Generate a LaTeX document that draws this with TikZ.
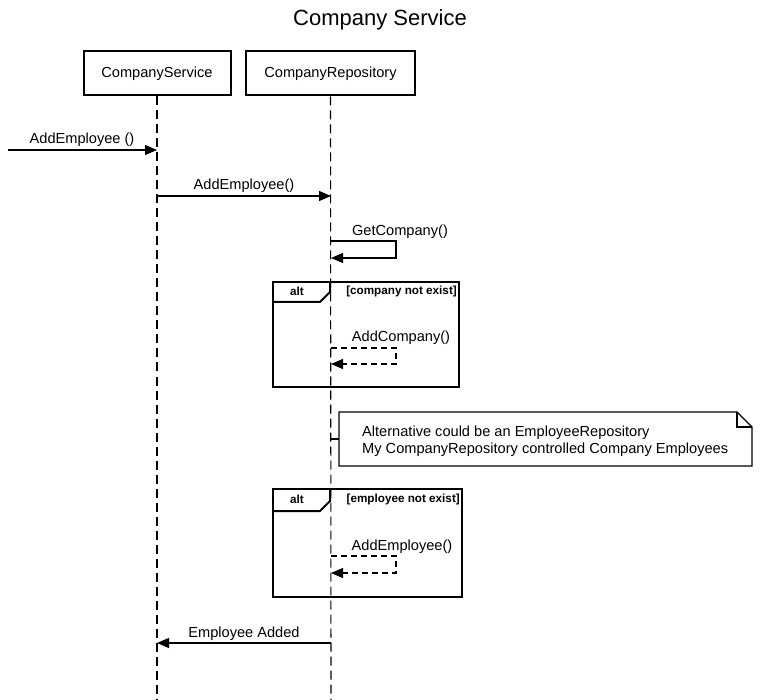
\documentclass[tikz,border=0pt]{standalone}
\usepackage{fontspec}
\setmainfont{Liberation Sans}
\usetikzlibrary{arrows.meta,shapes.misc}
\begin{document}
\begin{tikzpicture}[x=1pt,y=-1pt,
  actor/.style={draw,line width=2pt,minimum width=148pt,minimum height=44pt,inner sep=0pt,font=\fontsize{14.6}{17}\selectfont},
  lifeline/.style={line width=1.1pt,dash pattern=on 9pt off 5pt},
  msg/.style={line width=1.1pt,-{Triangle[length=12pt,width=10pt]}},
  ret/.style={line width=1.1pt,dash pattern=on 6pt off 4pt,-{Triangle[length=12pt,width=10pt]}},
  lbl/.style={font=\fontsize{14.6}{17}\selectfont,inner sep=0pt,yshift=-1.5pt},
  frm/.style={line width=2pt},
  frmtxt/.style={font=\bfseries\fontsize{11.7}{13}\selectfont,inner sep=0pt},
  note/.style={line width=1.1pt}]
\useasboundingbox (0,0) rectangle (760,700);
\node[font=\fontsize{22}{26}\selectfont] (title) at (380,19.5) {Company Service};
\node[actor,minimum width=147pt] (cs) at (157,73.5) {CompanyService};
\node[actor,minimum width=169pt] (cr) at (330.5,73.5) {CompanyRepository};
\coordinate (csend) at (157,700);
\coordinate (crend) at (331,700);
\draw[lifeline] (cs.south) -- (csend);
\draw[lifeline] (cr.south) -- (crend);
% incoming
\coordinate (in) at (8,150);
\coordinate (cs1) at (157,150);
\draw[msg] (in) -- (cs1);
\node[lbl] (l1) at (82,138) {AddEmployee ()};
% call
\coordinate (cs2) at (157,196);
\coordinate (cr2) at (331,196);
\draw[msg] (cs2) -- (cr2);
\node[lbl] (l2) at (244,184) {AddEmployee()};
% self GetCompany
\coordinate (g1) at (331,241);
\coordinate (g2) at (331,258);
\draw[msg] (g1) -- (396,241) -- (396,258) -- (g2);
\node[lbl] (l3) at (400,230) {GetCompany()};
% alt 1
\draw[frm] (273,282) rectangle (459,387);
\draw[frm] (273,302) -- (320,302) -- (330,292) -- (330,282);
\node[frmtxt] (a1) at (297,291.5) {alt};
\node[frmtxt,anchor=east] (c1) at (457,291.5) {[company not exist]};
\coordinate (h1) at (331,348);
\coordinate (h2) at (331,364);
\draw[ret] (h1) -- (396,348) -- (396,364) -- (h2);
\node[lbl] (l4) at (401,336) {AddCompany()};
% note
\draw[note,fill=white] (339,412) -- (737,412) -- (752,427) -- (752,466) -- (339,466) -- cycle;
\draw[note] (737,412) -- (737,427) -- (752,427);
\coordinate (nw) at (339,439);
\coordinate (nl) at (331,439);
\draw[line width=1.1pt] (nl) -- (nw);
\node[lbl,anchor=west,align=left] (nt) at (362,439.5) {Alternative could be an EmployeeRepository\\My CompanyRepository controlled Company Employees};
% alt 2
\draw[frm] (273,489) rectangle (462,597);
\draw[frm] (273,511) -- (320,511) -- (330,501) -- (330,489);
\node[frmtxt] (a2) at (297,499.5) {alt};
\node[frmtxt,anchor=east] (c2) at (460,499.5) {[employee not exist]};
\coordinate (k1) at (331,556);
\coordinate (k2) at (331,573);
\draw[ret] (k1) -- (396,556) -- (396,573) -- (k2);
\node[lbl] (l5) at (402,545) {AddEmployee()};
% return
\coordinate (r1) at (331,643);
\coordinate (r2) at (157,643);
\draw[msg] (r1) -- (r2);
\node[lbl] (l6) at (244,632) {Employee Added};
\end{tikzpicture}
\end{document}
